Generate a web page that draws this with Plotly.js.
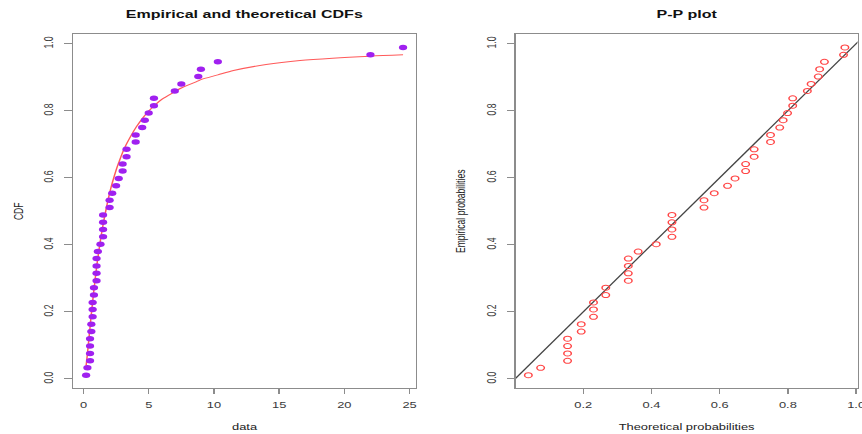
<!DOCTYPE html>
<html>
<head>
<meta charset="utf-8">
<script src="https://cdn.plot.ly/plotly-3.0.1.min.js"></script>
<style>
  html, body { margin: 0; padding: 0; background: #fff; overflow: hidden; }
  #wrap { width: 862px; height: 434px; overflow: hidden; }
  #chart { width: 575px; height: 434px; transform: scaleX(1.4991); transform-origin: 0 0; }
</style>
</head>
<body>
<div id="wrap"><div id="chart"></div></div>
<script>
// ---- data ----
// sorted sample values (46 observations)
var dataValues = [0.2, 0.3, 0.5, 0.5, 0.5, 0.5, 0.6, 0.6, 0.7, 0.7, 0.7, 0.8, 0.8,
  1.0, 1.0, 1.0, 1.0, 1.1, 1.3, 1.5, 1.5, 1.5, 1.5, 2.0, 2.0, 2.2, 2.5, 2.7,
  3.0, 3.0, 3.3, 3.3, 4.0, 4.0, 4.5, 4.7, 5.0, 5.4, 5.4, 7.0, 7.5, 8.8, 9.0,
  10.3, 22.0, 24.5];
// empirical probabilities (plotting positions)
var empiricalProb = [0.011, 0.033, 0.054, 0.076, 0.098, 0.120, 0.141, 0.163, 0.185,
  0.207, 0.228, 0.250, 0.272, 0.293, 0.315, 0.337, 0.359, 0.380, 0.402, 0.424,
  0.446, 0.467, 0.489, 0.511, 0.533, 0.554, 0.576, 0.598, 0.620, 0.641, 0.663,
  0.685, 0.707, 0.728, 0.750, 0.772, 0.793, 0.815, 0.837, 0.859, 0.880, 0.902,
  0.924, 0.946, 0.967, 0.989];
// theoretical probabilities of each observation
var theoreticalProb = [0.039, 0.075, 0.154, 0.154, 0.154, 0.154, 0.194, 0.194,
  0.230, 0.230, 0.230, 0.266, 0.266, 0.332, 0.332, 0.332, 0.332, 0.361, 0.414,
  0.460, 0.460, 0.460, 0.460, 0.554, 0.554, 0.584, 0.623, 0.645, 0.676, 0.676,
  0.701, 0.701, 0.749, 0.749, 0.776, 0.786, 0.799, 0.814, 0.814, 0.857, 0.868,
  0.889, 0.893, 0.907, 0.963, 0.967];
// fitted (theoretical) CDF curve
var curveX = [0.2, 0.3, 0.5, 0.6, 0.7, 0.8, 1.0, 1.1, 1.3, 1.5, 2.0, 2.2, 2.5, 2.7,
  3.0, 3.3, 4.0, 4.5, 4.7, 5.0, 5.4, 6.0, 7.0, 7.5, 8.8, 9.0, 10.3, 11.5, 14.0,
  16.6, 19.1, 22.0, 24.5];
var curveY = [0.039, 0.075, 0.154, 0.194, 0.230, 0.266, 0.332, 0.361, 0.414, 0.460,
  0.554, 0.584, 0.623, 0.645, 0.676, 0.701, 0.749, 0.776, 0.786, 0.799, 0.814,
  0.834, 0.857, 0.868, 0.889, 0.893, 0.907, 0.920, 0.938, 0.950, 0.957, 0.963,
  0.967];
// reference line y = x for the P-P plot
var diagLine = [0, 1.1];

var leftTicks = [0, 5, 10, 15, 20, 25];
var probTicks = [0, 0.2, 0.4, 0.6, 0.8, 1.0];
var probTickText = ['0.0', '0.2', '0.4', '0.6', '0.8', '1.0'];

// ---- styles ----
var FONT = 'Liberation Sans, Arial, Helvetica, sans-serif';
var tickFont = {family: FONT, size: 8.6, color: '#3a3a3a'};
var titleFont = {family: FONT, size: 8.6, color: '#222'};
var boxColor = '#8c8c8c';

function axisBase() {
  return {
    showgrid: false, zeroline: false,
    showline: true, mirror: true, linecolor: boxColor, linewidth: 1,
    ticks: 'outside', ticklen: 5, tickwidth: 1, tickcolor: boxColor,
    tickfont: tickFont, fixedrange: true
  };
}

var traces = [
  {
    x: curveX, y: curveY, type: 'scatter', mode: 'lines',
    line: {color: 'rgb(255,90,90)', width: 1, shape: 'spline', smoothing: 0.8},
    xaxis: 'x', yaxis: 'y', hoverinfo: 'skip', showlegend: false
  },
  {
    x: dataValues, y: empiricalProb, type: 'scatter', mode: 'markers',
    marker: {color: '#A020F0', size: 5.5, line: {width: 0}},
    xaxis: 'x', yaxis: 'y', showlegend: false
  },
  {
    x: diagLine, y: diagLine, type: 'scatter', mode: 'lines',
    line: {color: '#444', width: 1},
    xaxis: 'x2', yaxis: 'y2', hoverinfo: 'skip', showlegend: false
  },
  {
    x: theoreticalProb, y: empiricalProb, type: 'scatter', mode: 'markers',
    marker: {symbol: 'circle-open', color: 'rgb(255,70,70)', size: 5, line: {width: 1, color: 'rgb(255,70,70)'}},
    xaxis: 'x2', yaxis: 'y2', showlegend: false
  }
];

var xa = axisBase();
Object.assign(xa, {domain: [0.0852, 0.4823], range: [-0.772, 25.472], tickvals: leftTicks,
  ticktext: leftTicks.map(String), ticklabelstandoff: 3,
  title: {text: 'data', font: titleFont, standoff: 15}, anchor: 'y'});
var ya = axisBase();
Object.assign(ya, {domain: [0.1053, 0.921], range: [-0.0282, 1.0282], tickvals: probTicks,
  ticktext: probTickText, tickangle: -90, ticklabelstandoff: 4,
  title: {text: 'CDF', font: titleFont, standoff: 10}, anchor: 'x'});
var xa2 = axisBase();
Object.assign(xa2, {domain: [0.5983, 0.9948], range: [0.002, 1.004], tickvals: probTicks,
  ticktext: probTickText, ticklabelstandoff: 3, ticklabeloverflow: 'allow',
  title: {text: 'Theoretical probabilities', font: titleFont, standoff: 15}, anchor: 'y2'});
var ya2 = axisBase();
Object.assign(ya2, {domain: [0.1053, 0.921], range: [-0.0282, 1.0282], tickvals: probTicks,
  ticktext: probTickText, tickangle: -90, ticklabelstandoff: 4,
  title: {text: 'Empirical probabilities', font: titleFont, standoff: 10}, anchor: 'x2'});

var layout = {
  width: 575, height: 434,
  margin: {l: 0, r: 0, t: 0, b: 0, pad: 0},
  paper_bgcolor: '#fff', plot_bgcolor: '#fff',
  showlegend: false,
  xaxis: xa, yaxis: ya, xaxis2: xa2, yaxis2: ya2,
  annotations: [
    {text: '<b>Empirical and theoretical CDFs</b>', xref: 'x domain', yref: 'paper',
     x: 0.5, y: 0.9677, xanchor: 'center', yanchor: 'middle', showarrow: false,
     font: {family: FONT, size: 10.7, color: '#111'}},
    {text: '<b>P-P plot</b>', xref: 'x2 domain', yref: 'paper',
     x: 0.5, y: 0.9677, xanchor: 'center', yanchor: 'middle', showarrow: false,
     font: {family: FONT, size: 10.7, color: '#111'}}
  ]
};

Plotly.newPlot('chart', traces, layout, {displayModeBar: false, staticPlot: true});
</script>
</body>
</html>
